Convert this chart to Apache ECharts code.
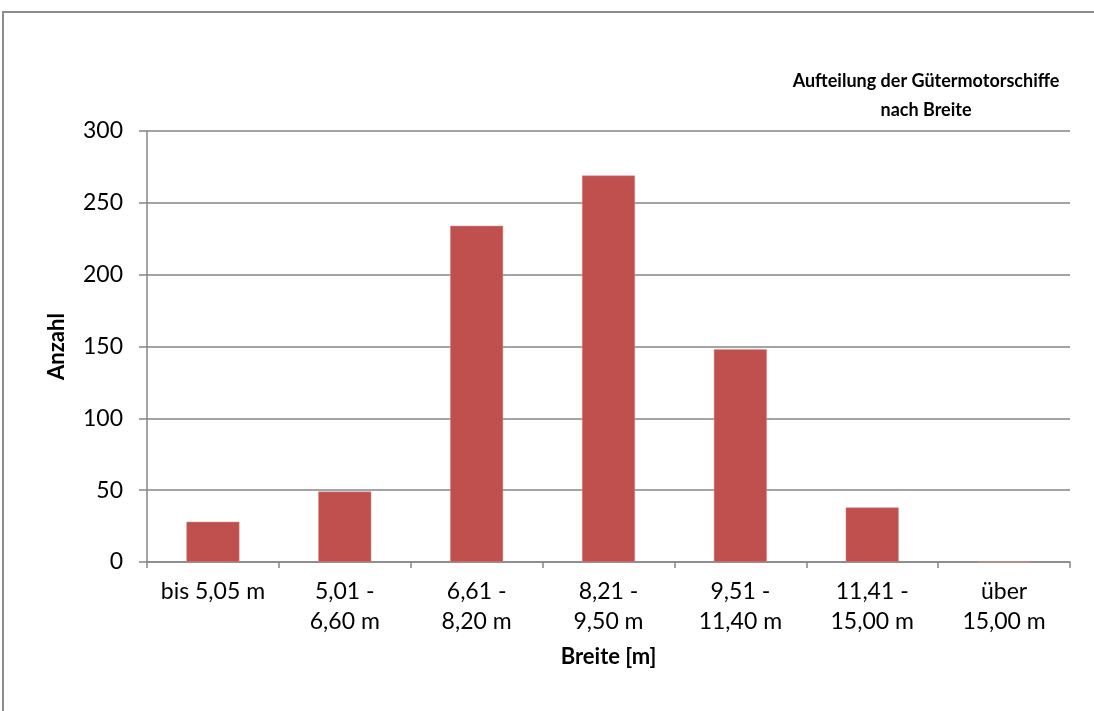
<!DOCTYPE html>
<html>
<head>
<meta charset="utf-8">
<script src="https://cdn.jsdelivr.net/npm/echarts@6/dist/echarts.min.js"></script>
<style>
html,body{margin:0;padding:0;background:#fff;}
#chart{width:1094px;height:711px;}
</style>
</head>
<body>
<div id="chart"></div>
<script>
var categories = ['bis 5,05 m', '5,01 -\n6,60 m', '6,61 -\n8,20 m', '8,21 -\n9,50 m', '9,51 -\n11,40 m', '11,41 -\n15,00 m', 'über\n15,00 m'];
var counts = [28, 49, 234, 269, 148, 38, 0];
var yTicks = { min: 0, max: 300, interval: 50 };
var titleText = 'Aufteilung der Gütermotorschiffe\nnach Breite';
var xName = 'Breite [m]';
var yName = 'Anzahl';

var chart = echarts.init(document.getElementById('chart'), null, {renderer: 'canvas'});
var font = 'Lato';
var grey = '#868686';
chart.setOption({
  animation: false,
  backgroundColor: '#fff',
  graphic: [{
    type: 'rect',
    shape: {x: 3, y: 12, width: 1200, height: 800},
    style: {fill: 'none', stroke: '#8c8c8c', lineWidth: 2},
    silent: true
  }],
  title: {
    text: titleText,
    left: 921,
    top: 62,
    textAlign: 'center',
    textStyle: {fontFamily: font, fontWeight: 'bold', fontSize: 18, color: '#000', lineHeight: 29, align: 'center'}
  },
  grid: {left: 147, right: 24, top: 131, bottom: 149, containLabel: false},
  xAxis: {
    type: 'category',
    data: categories,
    name: xName,
    nameLocation: 'middle',
    nameGap: 84,
    nameTextStyle: {fontFamily: font, fontWeight: 'bold', fontSize: 22, color: '#000'},
    axisLine: {lineStyle: {color: grey, width: 1.5}},
    axisTick: {show: true, length: 6, lineStyle: {color: grey, width: 1.5}},
    axisLabel: {fontFamily: font, fontSize: 23, color: '#000', margin: 15, lineHeight: 30, interval: 0}
  },
  yAxis: {
    type: 'value',
    min: yTicks.min, max: yTicks.max, interval: yTicks.interval,
    name: yName,
    nameLocation: 'middle',
    nameGap: 79,
    nameRotate: 90,
    nameTextStyle: {fontFamily: font, fontWeight: 'bold', fontSize: 22, color: '#000'},
    axisLine: {show: true, lineStyle: {color: grey, width: 1.5}},
    axisTick: {show: true, length: 8, lineStyle: {color: grey, width: 1.5}},
    splitLine: {show: true, lineStyle: {color: grey, width: 1.5}},
    axisLabel: {fontFamily: font, fontSize: 23, color: '#000', margin: 24}
  },
  series: [{
    type: 'bar',
    data: counts,
    barWidth: 53,
    itemStyle: {color: '#C0504D', borderColor: '#d98c8a', borderWidth: 0.5}
  }]
});
</script>
</body>
</html>
